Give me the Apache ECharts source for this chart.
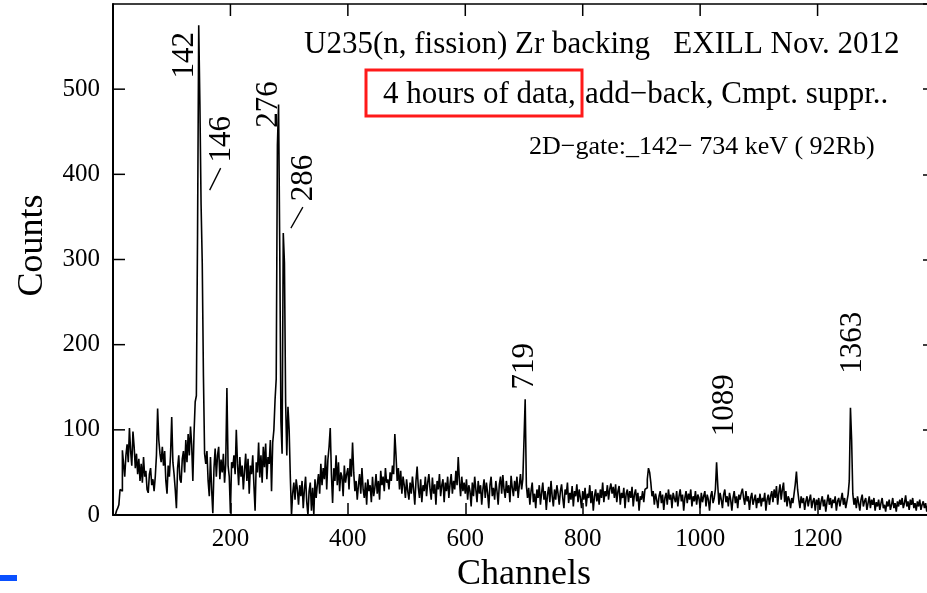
<!DOCTYPE html>
<html><head><meta charset="utf-8">
<script src="https://cdn.jsdelivr.net/npm/echarts@6/dist/echarts.min.js"></script>
<style>html,body{margin:0;padding:0;background:#fff;overflow:hidden}#c{width:927px;height:593px}</style>
</head><body><div id="c"></div>
<script>
// ---- data (2-channel bins, first bin starts at channel 0) ----
const binStart = 0;
const binWidth = 2;
const counts = [
  0,0,2,5,8,12,30,28,76,60, 45,70,83,62,102,75,58,98,80,55, 72,48,66,40,60,38,68,45,52,30, 26,48,55,35,42,28,45,70,125,88, 72,62,80,58,75,40,25,58,45,70,
  115,62,48,30,8,55,70,42,38,66, 75,50,88,62,95,70,104,82,40,96, 133,140,330,575,483,365,296,164,72,60, 75,40,22,68,30,2,55,78,45,70, 80,42,65,50,72,38,60,149,58,45,
  2,62,55,70,48,100,60,35,68,45, 58,30,52,72,40,66,25,58,48,70, 35,5,62,50,85,44,70,38,80,56, 84,42,68,60,88,28,85,100,135,160, 434,482,313,110,72,331,296,133,70,127,
  100,45,0,25,38,18,42,30,12,35, 22,40,8,30,45,15,0,28,38,5, 32,0,42,20,36,48,25,60,35,55, 42,70,30,65,80,102,48,14,55,40, 70,35,62,28,50,45,22,58,38,48,
  55,30,66,45,85,50,28,40,18,35, 48,25,55,30,20,38,12,42,28,35, 15,45,22,32,48,25,40,18,52,35, 45,28,55,38,42,30,50,40,58,48, 95,70,40,55,30,52,25,45,35,20,
  42,28,18,38,25,45,30,12,40,57, 32,20,42,15,35,28,45,22,38,48, 30,18,44,25,36,12,40,30,48,22, 35,42,15,38,28,45,20,36,48,25, 40,30,52,35,68,40,22,45,28,38,
  25,42,18,35,28,10,38,22,45,30, 15,40,25,35,12,30,42,20,38,26, 8,35,45,22,32,18,40,28,12,36, 45,25,47,30,20,40,26,35,15,46, 32,22,40,28,45,20,35,48,30,42,
  88,136,35,20,32,12,28,38,15,25, 8,30,20,35,12,26,38,18,28,6, 24,33,15,40,22,10,30,18,35,25, 12,28,36,20,8,30,24,38,14,26, 18,34,10,28,22,36,15,30,20,8,
  28,18,32,10,25,20,35,14,28,5, 22,30,16,26,12,30,20,38,15,28, 22,35,18,30,37,25,33,20,36,15, 28,34,12,26,20,32,8,25,30,15, 28,20,33,10,24,30,16,26,5,22,
  18,28,15,30,32,42,55,50,38,22, 28,12,25,18,8,22,28,14,24,6, 20,26,12,30,18,24,8,26,20,15, 28,10,22,30,16,24,5,20,28,14, 25,18,30,10,22,16,28,12,24,20,
  8,26,15,22,28,10,24,18,5,22, 28,14,20,30,62,35,12,26,18,8, 24,30,15,22,10,26,18,5,20,28, 14,22,8,24,18,26,31,20,12,28, 16,22,6,20,26,12,18,24,8,20,
  14,25,10,20,16,26,5,18,24,12, 22,28,15,30,20,34,12,26,36,18, 30,38,15,28,10,22,18,8,20,14, 25,36,51,30,18,8,22,14,20,6, 16,22,10,18,24,8,16,20,5,18,
  12,20,6,16,22,10,18,4,15,24, 12,20,8,18,14,22,5,16,20,10, 18,26,12,20,8,16,24,40,126,88, 25,12,20,8,22,14,5,18,24,10, 16,20,6,14,22,8,18,12,20,5,
  15,10,18,6,14,20,8,12,4,16, 10,18,6,12,20,8,14,4,16,10, 18,12,20,8,14,23,10,16,6,18, 12,20,8,14,5,16,10,18,6,12, 16,8,14,4,12,16,8,14,6,10
];
const xMin = 0, xMax = 1400, xStep = 200;
const yMin = 0, yMax = 600, yStep = 100;
const peakNames = ['142', '146', '276', '286', '719', '1089', '1363'];
const peakChannels = [146, 150, 282, 290, 702, 1028, 1256];
const peakCounts = [575, 365, 482, 331, 136, 62, 126];
const titleLine1 = 'U235(n, fission) Zr backing   EXILL Nov. 2012';
const titleLine2a = '4 hours of data,';
const titleLine2b = 'add\u2212back, Cmpt. suppr..';
const gateText = '2D\u2212gate:_142\u2212 734 keV ( 92Rb)';
const xTitle = 'Channels';
const yTitle = 'Counts';

// ---- layout / style ----
const FONT = '"Liberation Serif", "Times New Roman", serif';
const TICK_LEN = 12;
const labelOffsets = [[-14, 30], [20, -65], [-10, 0], [20, -55], [-1, -33], [8, -57], [2, -65]];
const leaderLines = { 1: [8, -14, 19, -36], 3: [7, -5, 19, -26] };

const seriesData = counts.map((c, i) => [binStart + i * binWidth, c]);

function tick(show) {
  return { show: show, inside: true, length: TICK_LEN, lineStyle: { color: '#000', width: 1.5 } };
}
function line(w) {
  return { show: true, onZero: false, lineStyle: { color: '#000', width: w } };
}

const chart = echarts.init(document.getElementById('c'), null, { renderer: 'canvas' });
chart.setOption({
  animation: false,
  backgroundColor: '#fff',
  grid: { left: 113, right: -8, top: 4, bottom: 78, outerBoundsMode: 'none', containLabel: false },
  xAxis: [
    {
      type: 'value', position: 'bottom', min: xMin, max: xMax, interval: xStep,
      splitLine: { show: false }, axisLine: line(2), axisTick: tick(true),
      axisLabel: { color: '#000', fontFamily: FONT, fontSize: 25, margin: 12,
        formatter: v => (v === xMin || v === xMax) ? '' : String(v) },
      name: xTitle, nameLocation: 'middle', nameGap: 40,
      nameTextStyle: { color: '#000', fontFamily: FONT, fontSize: 36 }
    },
    {
      type: 'value', position: 'top', min: xMin, max: xMax, interval: xStep,
      splitLine: { show: false }, axisLine: line(1.5), axisTick: tick(false),
      axisLabel: { show: false }
    }
  ],
  yAxis: [
    {
      type: 'value', position: 'left', min: yMin, max: yMax, interval: yStep,
      splitLine: { show: false }, axisLine: line(2), axisTick: tick(false),
      axisLabel: { color: '#000', fontFamily: FONT, fontSize: 25, margin: 13,
        formatter: v => v === yMax ? '' : String(v) },
      name: yTitle, nameLocation: 'middle', nameGap: 62,
      nameTextStyle: { color: '#000', fontFamily: FONT, fontSize: 36, padding: [0, 0, 0, 28] }
    },
    {
      type: 'value', position: 'right', min: yMin, max: yMax, interval: yStep,
      splitLine: { show: false }, axisLine: line(2), axisTick: tick(true),
      axisLabel: { show: false }
    }
  ],
  series: [{
    type: 'line', step: 'end', data: seriesData, showSymbol: false, symbol: 'none',
    xAxisIndex: 0, yAxisIndex: 0, silent: true,
    lineStyle: { color: '#000', width: 1.6 }
  }]
});

const graphics = [];
// inward ticks for the left and top frame edges, placed with the axis scales
const leftPx = chart.convertToPixel({ xAxisIndex: 0 }, xMin);
const topPx = chart.convertToPixel({ yAxisIndex: 0 }, yMax);
for (let v = yMin + yStep; v < yMax; v += yStep) {
  const py = chart.convertToPixel({ yAxisIndex: 0 }, v);
  graphics.push({ type: 'line', silent: true,
    shape: { x1: leftPx, y1: py, x2: leftPx + TICK_LEN, y2: py },
    style: { stroke: '#000', lineWidth: 1.5 } });
}
for (let v = xMin + xStep; v < xMax; v += xStep) {
  const px = chart.convertToPixel({ xAxisIndex: 0 }, v);
  graphics.push({ type: 'line', silent: true,
    shape: { x1: px, y1: topPx, x2: px, y2: topPx + TICK_LEN },
    style: { stroke: '#000', lineWidth: 1.5 } });
}
peakNames.forEach((name, i) => {
  const p = chart.convertToPixel({ xAxisIndex: 0, yAxisIndex: 0 }, [peakChannels[i] + binWidth / 2, peakCounts[i]]);
  const off = labelOffsets[i];
  graphics.push({
    type: 'text', x: p[0] + off[0], y: p[1] + off[1], rotation: Math.PI / 2, silent: true,
    style: { text: name, fontFamily: FONT, fontSize: 31, fill: '#000', align: 'center', verticalAlign: 'middle' }
  });
  if (leaderLines[i]) {
    const l = leaderLines[i];
    graphics.push({
      type: 'line', silent: true,
      shape: { x1: p[0] + l[0], y1: p[1] + l[1], x2: p[0] + l[2], y2: p[1] + l[3] },
      style: { stroke: '#000', lineWidth: 1.3 }
    });
  }
});
graphics.push(
  { type: 'text', x: 304, y: 45, silent: true,
    style: { text: titleLine1, fontFamily: FONT, fontSize: 31, fill: '#000', align: 'left', verticalAlign: 'middle' } },
  { type: 'text', x: 383, y: 95, silent: true,
    style: { text: titleLine2a, fontFamily: FONT, fontSize: 31, fill: '#000', align: 'left', verticalAlign: 'middle' } },
  { type: 'text', x: 585, y: 95, silent: true,
    style: { text: titleLine2b, fontFamily: FONT, fontSize: 31, fill: '#000', align: 'left', verticalAlign: 'middle' } },
  { type: 'rect', silent: true, shape: { x: 366, y: 70, width: 216, height: 46 },
    style: { fill: 'none', stroke: '#ff1a1a', lineWidth: 3 } },
  { type: 'text', x: 529, y: 147, silent: true,
    style: { text: gateText, fontFamily: FONT, fontSize: 26, fill: '#000', align: 'left', verticalAlign: 'middle' } },
  { type: 'rect', silent: true, shape: { x: 0, y: 575, width: 17, height: 6 },
    style: { fill: '#0a50ff' } }
);
chart.setOption({ graphic: graphics });
</script>
</body></html>
